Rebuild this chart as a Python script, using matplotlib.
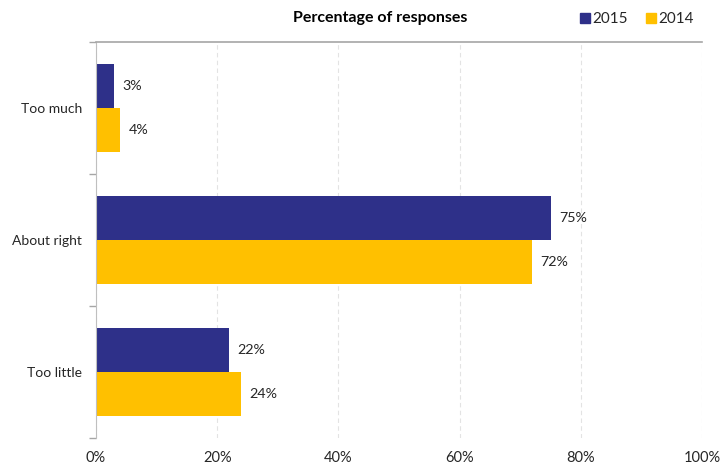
import matplotlib.pyplot as plt
from matplotlib.lines import Line2D
import numpy as np

# --- data ---
categories = ['Too much', 'About right', 'Too little']
pct_2015 = [3, 75, 22]
pct_2014 = [4, 72, 24]
x_ticks = [0, 20, 40, 60, 80, 100]

# --- style ---
plt.rcParams['font.family'] = ['Lato', 'DejaVu Sans']
navy = '#2E3089'
gold = '#FFC000'
text_col = '#262626'

fig = plt.figure(figsize=(7.25, 4.66), dpi=100)
ax = fig.add_axes([96 / 725, 1 - 438 / 466, (702 - 96) / 725, (438 - 42) / 466])

y = np.arange(len(categories))
h = 0.333
b15 = ax.barh(y - h / 2, pct_2015, height=h, color=navy, label='2015')
b14 = ax.barh(y + h / 2, pct_2014, height=h, color=gold, label='2014')

for bars, vals in ((b15, pct_2015), (b14, pct_2014)):
    for bar, v in zip(bars, vals):
        ax.annotate(f'{v}%', (v, bar.get_y() + bar.get_height() / 2),
                    xytext=(6, 0), textcoords='offset points',
                    va='center', ha='left', fontsize=10.3, color=text_col)

ax.set_xlim(0, 100)
ax.set_ylim(len(categories) - 0.5, -0.5)
ax.set_xticks(x_ticks)
ax.set_xticklabels([f'{t}%' for t in x_ticks], fontsize=10.5, color=text_col)
ax.set_yticks(y)
ax.set_yticklabels(categories, fontsize=10, color=text_col)
ax.set_yticks(np.arange(-0.5, len(categories)), minor=True)
ax.tick_params(axis='y', which='major', length=0, pad=10)
ax.tick_params(axis='y', which='minor', length=5, color='#a6a6a6', width=1)
ax.tick_params(axis='x', length=0, pad=9)

ax.grid(axis='x', linestyle=(0, (4, 3)), color='#e3e3e3', linewidth=0.8)
ax.set_axisbelow(True)
for s in ('right', 'bottom'):
    ax.spines[s].set_visible(False)
ax.spines['left'].set_color('#bfbfbf')
ax.spines['top'].set_color('#a6a6a6')
ax.spines['top'].set_linewidth(1.2)

fig.text(380 / 725, 1 - 18 / 466, 'Percentage of responses', ha='center', va='center',
         fontsize=11.5, fontweight='bold', color='#000000')

handles = [Line2D([], [], marker='s', color='none', markerfacecolor=navy,
                  markeredgecolor=navy, markersize=7, label='2015'),
           Line2D([], [], marker='s', color='none', markerfacecolor=gold,
                  markeredgecolor=gold, markersize=7, label='2014')]
fig.legend(handles=handles, loc='center', bbox_to_anchor=(637 / 725, 1 - 19 / 466),
           ncol=2, frameon=False, fontsize=11, handlelength=0.6, handletextpad=0.2,
           columnspacing=1.2, labelcolor=text_col)

fig.savefig('out.png', dpi=100)
